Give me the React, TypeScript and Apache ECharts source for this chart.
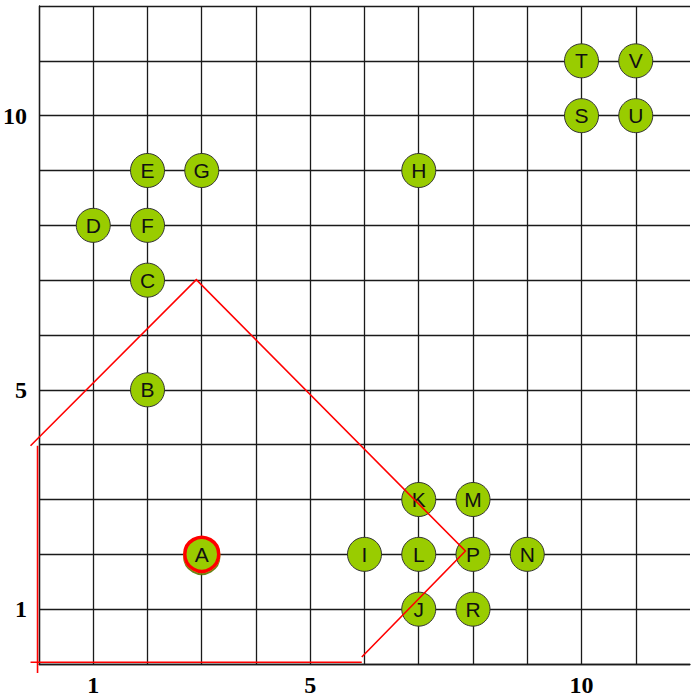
import React, { useEffect, useRef } from "react";
import * as echarts from "echarts";

const pointNames = ["A", "B", "C", "D", "E", "F", "G", "H", "I", "J", "K", "L", "M", "N", "P", "R", "S", "T", "U", "V"];
const pointX = [3, 2, 2, 1, 2, 2, 3, 7, 6, 7, 7, 7, 8, 9, 8, 8, 10, 10, 11, 11];
const pointY = [2, 5, 7, 8, 9, 8, 9, 9, 2, 1, 3, 2, 3, 2, 2, 1, 10, 11, 10, 11];
const highlighted = ["A"];

const tickLabels = [1, 5, 10];

// red outline, in data units
const outlineMain: [number, number][] = [[-0.156, 3.98], [2.9, 7.01], [7.86, 2.06], [5.95, 0.128]];
const outlineBottom: [number, number][] = [[5.95, 0.031], [-0.156, 0.031]];
const outlineLeft: [number, number][] = [[-0.027, 3.98], [-0.027, -0.164]];
const outlines = [outlineMain, outlineBottom, outlineLeft];

export default function App() {
  const ref = useRef<HTMLDivElement>(null);
  useEffect(() => {
    if (!ref.current) return;
    const chart = echarts.init(ref.current, undefined, { renderer: "svg" });
    const points = pointNames.map((n, i) => {
      const item: any = { name: n, value: [pointX[i], pointY[i]] };
      if (highlighted.includes(n)) {
        item.itemStyle = {
          borderColor: "#ff0000",
          borderWidth: 3.5,
          shadowColor: "rgba(90,120,0,0.9)",
          shadowOffsetY: 2,
          shadowBlur: 0,
        };
      }
      return item;
    });
    const axisLabel = {
      formatter: (v: number) => (tickLabels.includes(v) ? String(v) : ""),
      fontFamily: "'Liberation Serif', 'Times New Roman', serif",
      fontWeight: "bold" as const,
      fontSize: 24,
      color: "#000",
    };
    const splitLine = { show: true, lineStyle: { color: "#1a1a1a", width: 1.3 } };
    chart.setOption({
      animation: false,
      backgroundColor: "#ffffff",
      grid: { left: 37, top: 6, right: 0, bottom: 35, containLabel: false },
      xAxis: {
        type: "value",
        min: 0,
        max: 12,
        interval: 1,
        axisLine: { show: true, lineStyle: { color: "#1a1a1a", width: 1.3 } },
        axisTick: { show: false },
        splitLine: { ...splitLine, showMaxLine: false },
        axisLabel: { ...axisLabel, margin: 9 },
      },
      yAxis: {
        type: "value",
        min: 0,
        max: 12,
        interval: 1,
        axisLine: { show: true, lineStyle: { color: "#1a1a1a", width: 1.3 } },
        axisTick: { show: false },
        splitLine,
        axisLabel: { ...axisLabel, margin: 12 },
      },
      series: [
        {
          type: "scatter",
          data: points,
          symbol: "circle",
          symbolSize: 34,
          z: 3,
          itemStyle: { color: "#99cc00", borderColor: "#333", borderWidth: 1, opacity: 1 },
          label: {
            show: true,
            position: "inside",
            formatter: "{b}",
            fontFamily: "'Liberation Sans', Arial, sans-serif",
            fontSize: 21,
            color: "#111",
          },
        },
        {
          type: "custom",
          clip: false,
          z: 5,
          silent: true,
          data: outlines.map((o, i) => [i, o[0][0], o[0][1]]),
          encode: { x: 1, y: 2 },
          renderItem: (params: any, api: any) => {
            const seg = outlines[api.value(0)];
            return {
              type: "polyline",
              shape: { points: seg.map((p) => api.coord(p)) },
              style: { stroke: "#ff0000", lineWidth: 1.6, fill: null },
            };
          },
        },
      ],
    });
    return () => chart.dispose();
  }, []);
  return (
    <div
      ref={ref}
      style={{ position: "fixed", left: 0, top: 0, width: 693, height: 699, background: "#fff" }}
    />
  );
}
